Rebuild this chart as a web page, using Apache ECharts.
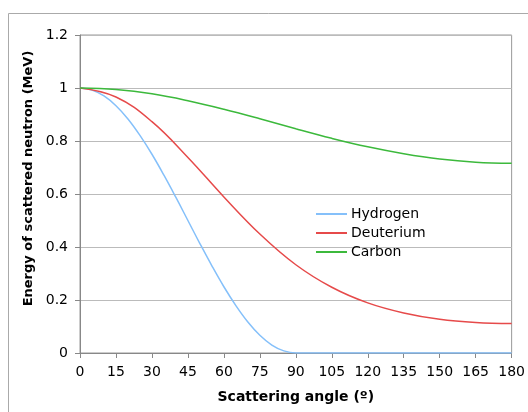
<!DOCTYPE html>
<html>
<head>
<meta charset="utf-8">
<script src="https://cdn.jsdelivr.net/npm/echarts@6/dist/echarts.min.js"></script>
<style>html,body{margin:0;padding:0;background:#fff}#c{width:528px;height:412px}</style>
</head>
<body>
<div id="c"></div>
<script>
// Angles (degrees) and energies (MeV)
var hydrogenAngles = [0,5,10,15,20,25,30,35,40,45,50,55,60,65,70,75,80,85,90,105,120,135,150,165,180];
var hydrogenEnergy = [1,0.992,0.970,0.933,0.883,0.821,0.750,0.671,0.587,0.500,0.413,0.329,0.250,0.179,0.117,0.067,0.030,0.008,0,0,0,0,0,0,0];
var angles = [0,15,30,45,60,75,90,105,120,135,150,165,180];
var deuteriumEnergy = [1,0.966,0.873,0.738,0.589,0.449,0.333,0.248,0.189,0.151,0.127,0.115,0.111];
var carbonEnergy = [1,0.994,0.978,0.952,0.920,0.884,0.846,0.810,0.778,0.752,0.732,0.720,0.716];
var seriesNames = ['Hydrogen','Deuterium','Carbon'];
var seriesColors = ['#85c0fa','#e64a4a','#3cb93c'];

function pairs(xs, ys){ return xs.map(function(x,i){ return [x, ys[i]]; }); }

var FONT = 'DejaVu Sans';
var chart = echarts.init(document.getElementById('c'));
chart.setOption({
  animation: false,
  backgroundColor: '#fff',
  textStyle: {fontFamily: FONT},
  graphic: [{
    type: 'rect', z: -10, silent: true,
    shape: {x: 8.5, y: 13.5, width: 560, height: 440},
    style: {fill: 'none', stroke: '#aaaaaa', lineWidth: 1}
  }],
  grid: {left: 80, top: 35, width: 433, height: 318, show: true, borderColor: '#999', borderWidth: 1, backgroundColor: 'transparent'},
  legend: {
    orient: 'vertical', left: 311, top: 202, itemGap: 5,
    itemWidth: 31, itemHeight: 2, icon: 'rect',
    textStyle: {fontFamily: FONT, fontSize: 14, color: '#000', padding: [0,0,0,-1]},
    data: seriesNames
  },
  xAxis: {
    type: 'value', min: 0, max: 180, interval: 15,
    name: 'Scattering angle (º)', nameLocation: 'middle', nameGap: 37,
    nameTextStyle: {fontFamily: FONT, fontSize: 14, fontWeight: 'bold', color: '#000'},
    axisLine: {show: true, lineStyle: {color: '#888'}},
    axisTick: {show: true, inside: false, length: 5, lineStyle: {color: '#888'}},
    axisLabel: {fontFamily: FONT, fontSize: 14, color: '#000', margin: 12},
    splitLine: {show: false}
  },
  yAxis: {
    type: 'value', min: 0, max: 1.2, interval: 0.2,
    name: 'Energy of scattered neutron (MeV)', nameLocation: 'middle', nameGap: 42,
    nameTextStyle: {fontFamily: FONT, fontSize: 13, fontWeight: 'bold', color: '#000', padding: [0,0,0,31]},
    axisLine: {show: true, lineStyle: {color: '#888'}},
    axisTick: {show: true, inside: false, length: 5, lineStyle: {color: '#888'}},
    axisLabel: {fontFamily: FONT, fontSize: 14, color: '#000', margin: 12},
    splitLine: {show: true, lineStyle: {color: '#bbbbbb', width: 1}}
  },
  series: [
    {name: seriesNames[0], type: 'line', data: pairs(hydrogenAngles, hydrogenEnergy), smooth: 0.4, showSymbol: false, symbol: 'none', lineStyle: {width: 1.5, color: seriesColors[0]}, itemStyle: {color: seriesColors[0]}},
    {name: seriesNames[1], type: 'line', data: pairs(angles, deuteriumEnergy), smooth: 0.4, showSymbol: false, symbol: 'none', lineStyle: {width: 1.5, color: seriesColors[1]}, itemStyle: {color: seriesColors[1]}},
    {name: seriesNames[2], type: 'line', data: pairs(angles, carbonEnergy), smooth: 0.4, showSymbol: false, symbol: 'none', lineStyle: {width: 1.5, color: seriesColors[2]}, itemStyle: {color: seriesColors[2]}}
  ]
});
</script>
</body>
</html>
